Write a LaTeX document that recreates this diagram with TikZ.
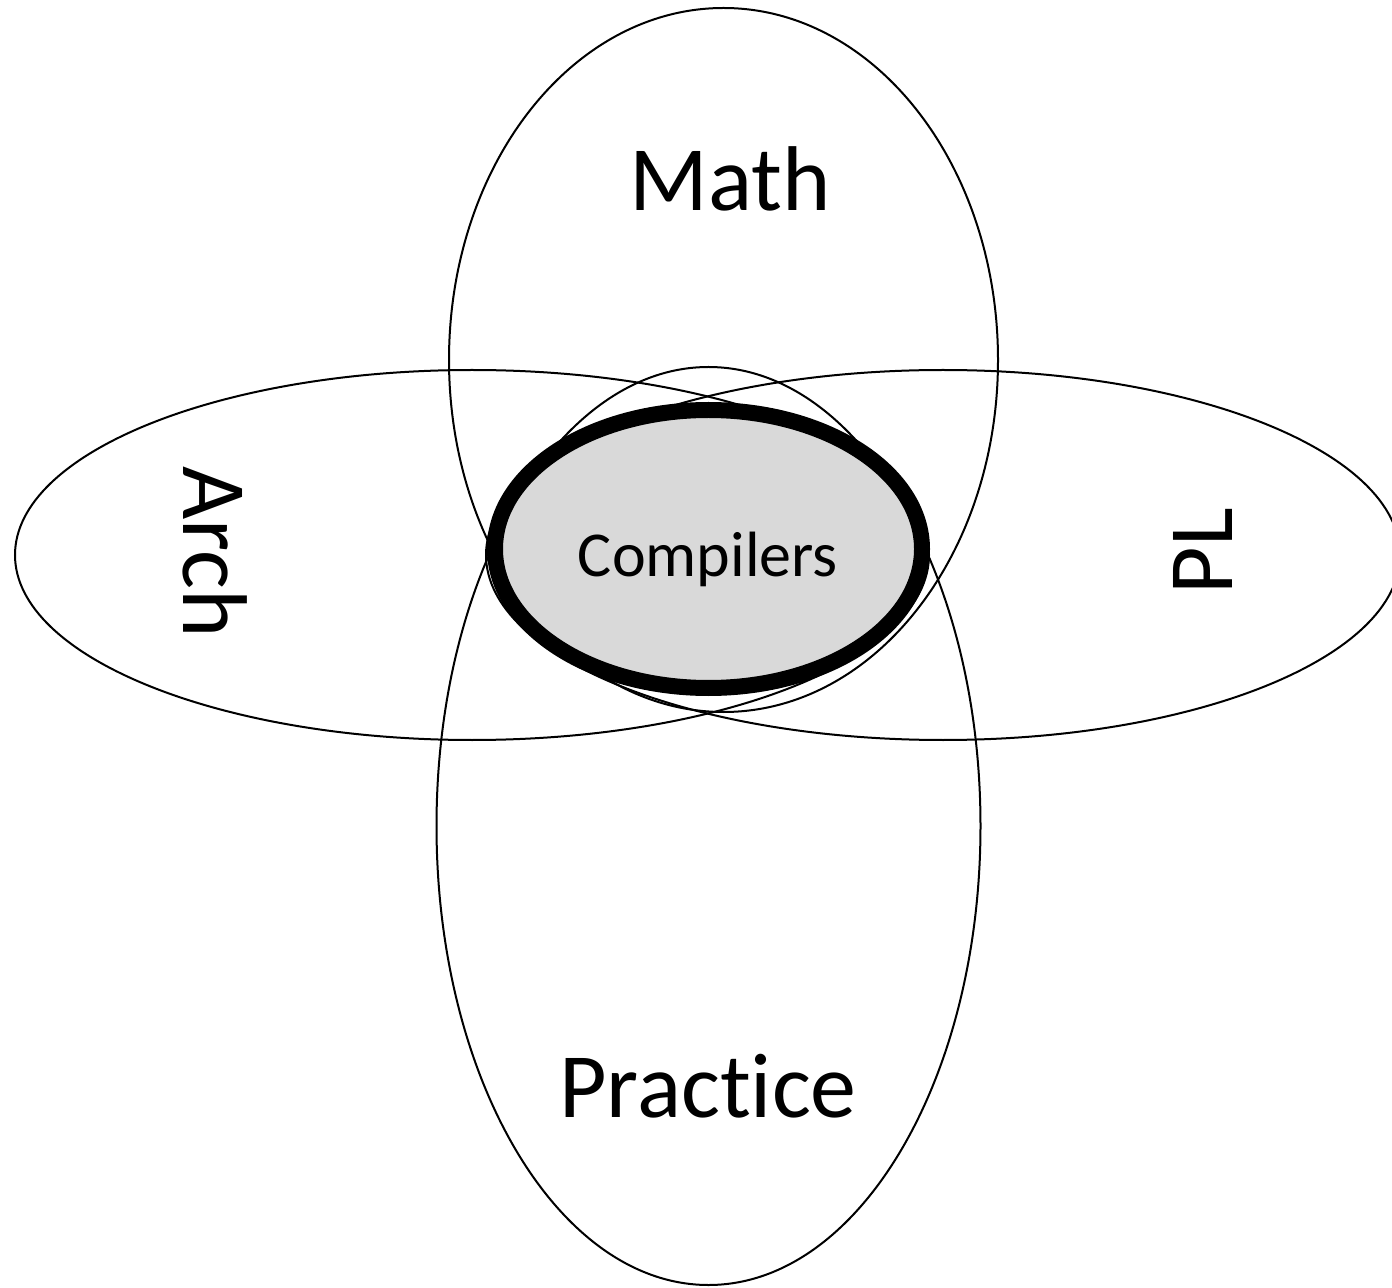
\documentclass[tikz,border=0pt]{standalone}
\usepackage{fontspec}
\setmainfont{Carlito}[Ligatures=NoCommon]
\usetikzlibrary{shapes.geometric}
\definecolor{coregray}{HTML}{D9D9D9}
\begin{document}
\begin{tikzpicture}[x=0.5pt,y=-0.5pt,
  field/.style={ellipse,draw=black,line width=1pt,inner sep=0pt,outer sep=0pt},
  core/.style={ellipse,draw=black,fill=coregray,line width=8pt,inner sep=0pt,outer sep=0pt},
  biglabel/.style={font=\fontsize{46}{46}\selectfont,inner sep=0pt,anchor=base},
  smalllabel/.style={font=\fontsize{32}{32}\selectfont,inner sep=0pt,anchor=base}]
  \useasboundingbox (0,0) rectangle (1392,1288);
  \clip (0,0) rectangle (1392,1288);
  % the four overlapping fields
  \node[field,minimum width=274.5pt,minimum height=352pt] (math) at (723.5,360) {};
  \node[field,minimum width=272pt,minimum height=459pt] (practice) at (708.5,826) {};
  \node[field,minimum width=457pt,minimum height=185pt] (arch) at (472,555) {};
  \node[field,minimum width=457pt,minimum height=185pt] (pl) at (943,555) {};
  % their common core
  \node[core,minimum width=213.5pt,minimum height=139pt] (comp) at (708.5,549) {};
  % labels
  \node[biglabel] (mathlabel) at (730,211) {Math};
  \node[biglabel] (practicelabel) at (708,1117) {Practice};
  \node[biglabel,rotate=-90] (archlabel) at (183,552) {Arch};
  \node[biglabel,rotate=90] (pllabel) at (1232,551) {PL};
  \node[smalllabel] (complabel) at (708,577) {Compilers};
\end{tikzpicture}
\end{document}
